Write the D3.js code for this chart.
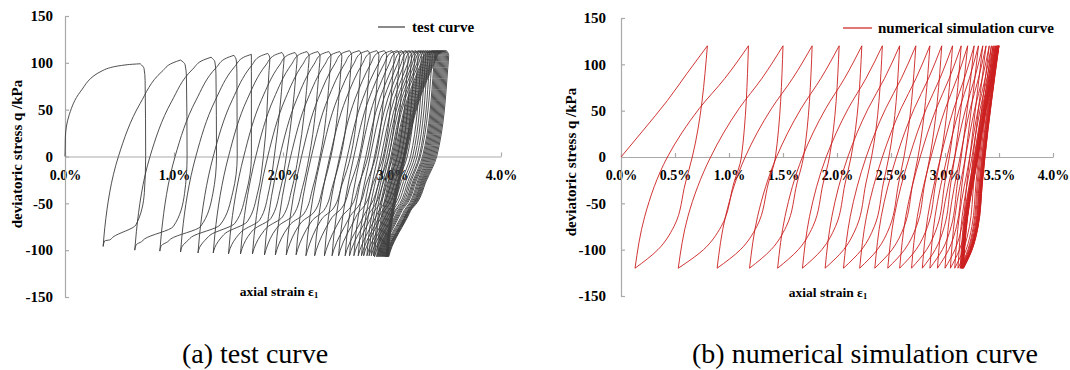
<!DOCTYPE html>
<html>
<head>
<meta charset="utf-8">
<script src="https://cdn.jsdelivr.net/npm/d3@7"></script>
<style>
html,body{margin:0;padding:0;background:#fff;}
svg{display:block;}
svg text{font-family:"Liberation Serif","Times New Roman",Times,"DejaVu Serif",serif;}
</style>
</head>
<body>
<svg id="chart" width="1070" height="370"></svg>
<script>
// ---------------- data ----------------
const yTickValues = [-150, -100, -50, 0, 50, 100, 150];
const yTickLabels = ["-150", "-100", "-50", "0", "50", "100", "150"];
const testTickValues = [0, 1, 2, 3, 4];
const testTickLabels = ["0.0%", "1.0%", "2.0%", "3.0%", "4.0%"];
const simTickValues = [0, 0.5, 1, 1.5, 2, 2.5, 3, 3.5, 4];
const simTickLabels = ["0.0%", "0.5%", "1.0%", "1.5%", "2.0%", "2.5%", "3.0%", "3.5%", "4.0%"];

// (a) test curve: first loading branch
const testFirstStrain = [0, 0.003, 0.04, 0.14, 0.35, 0.57];
const testFirstStress = [0, 20, 45, 69, 92, 98];
// per cycle (peak -> unloading -> trough)
const testPeakStrain = [0.69, 1.06, 1.34, 1.55, 1.71, 1.86, 1.99, 2.11, 2.22, 2.32, 2.42, 2.52, 2.61, 2.70, 2.78, 2.86, 2.93, 3.00, 3.05, 3.09, 3.13, 3.16, 3.19, 3.22, 3.25, 3.27, 3.29, 3.31, 3.33, 3.35, 3.37, 3.38, 3.39, 3.40, 3.41, 3.42, 3.43, 3.44, 3.45, 3.46, 3.47, 3.48, 3.49, 3.50];
const testPeakStress = [99, 103, 106, 108, 109, 110, 111, 111, 112, 112, 112, 112, 113, 113, 113, 113, 113, 113, 113, 113, 113, 113, 113, 113, 113, 113, 113, 113, 113, 113, 113, 113, 113, 113, 113, 113, 113, 113, 113, 113, 113, 113, 113, 113];
const testUnloadZero = [0.74, 1.12, 1.39, 1.58, 1.71, 1.82, 1.92, 2.03, 2.14, 2.24, 2.34, 2.44, 2.53, 2.62, 2.70, 2.78, 2.85, 2.92, 2.97, 3.01, 3.05, 3.08, 3.11, 3.14, 3.17, 3.19, 3.21, 3.23, 3.25, 3.26, 3.28, 3.29, 3.30, 3.31, 3.32, 3.33, 3.34, 3.35, 3.36, 3.37, 3.38, 3.39, 3.40, 3.41];
const testKinkStrain = [0.44, 0.73, 0.97, 1.16, 1.33, 1.47, 1.62, 1.73, 1.85, 1.96, 2.07, 2.17, 2.27, 2.36, 2.45, 2.54, 2.62, 2.68, 2.75, 2.79, 2.83, 2.87, 2.90, 2.92, 2.96, 2.98, 3.00, 3.02, 3.03, 3.05, 3.06, 3.07, 3.08, 3.09, 3.11, 3.12, 3.13, 3.14, 3.145, 3.15, 3.155, 3.16, 3.165, 3.17];
const testKinkStress = [-86, -88, -88, -86, -84, -82, -80, -78, -76, -74, -72, -70, -68, -66, -65, -64, -63, -62, -61, -61, -60, -60, -60, -60, -59, -59, -59, -59, -59, -58, -58, -58, -58, -58, -58, -58, -58, -58, -58, -58, -58, -58, -58, -58];
const testTroughStrain = [0.35, 0.64, 0.87, 1.06, 1.22, 1.36, 1.50, 1.61, 1.72, 1.83, 1.93, 2.03, 2.12, 2.21, 2.29, 2.38, 2.45, 2.51, 2.57, 2.61, 2.65, 2.69, 2.72, 2.74, 2.77, 2.79, 2.81, 2.83, 2.84, 2.86, 2.87, 2.88, 2.89, 2.90, 2.91, 2.92, 2.93, 2.94, 2.945, 2.95, 2.955, 2.96, 2.965, 2.97];
const testTroughStress = [-96, -100, -101, -102, -103, -103, -104, -104, -104, -105, -105, -105, -105, -106, -106, -106, -106, -106, -106, -106, -106, -106, -106, -106, -106, -106, -106, -106, -107, -107, -107, -107, -107, -107, -107, -107, -107, -107, -107, -107, -107, -107, -107, -107];
// reloading branch i: trough i -> peak i+1, strain where q crosses 0
const testReloadZero = [0.49, 0.78, 1.01, 1.20, 1.36, 1.50, 1.64, 1.75, 1.86, 1.97, 2.07, 2.17, 2.26, 2.35, 2.43, 2.52, 2.59, 2.65, 2.71, 2.76, 2.80, 2.84, 2.87, 2.90, 2.93, 2.95, 2.97, 2.99, 3.00, 3.02, 3.03, 3.04, 3.05, 3.06, 3.07, 3.08, 3.09, 3.10, 3.105, 3.11, 3.115, 3.12, 3.125];

// (b) numerical simulation curve
const simFirstStrain = [0, 0.20, 0.43, 0.61];
const simFirstStress = [0, 28, 61, 90];
const simPeakStrain = [0.80, 1.18, 1.50, 1.77, 2.02, 2.23, 2.42, 2.58, 2.73, 2.86, 2.97, 3.07, 3.15, 3.21, 3.27, 3.31, 3.35, 3.38, 3.41, 3.43, 3.445, 3.455, 3.465, 3.472, 3.478, 3.483, 3.487, 3.49, 3.493, 3.495, 3.497, 3.499, 3.50];
const simPeakStress = [120, 120, 120, 120, 120, 120, 120, 120, 120, 120, 120, 120, 120, 120, 120, 120, 120, 120, 120, 120, 120, 120, 120, 120, 120, 120, 120, 120, 120, 120, 120, 120, 120];
const simUnloadZero = [0.66, 1.115, 1.43, 1.69, 1.93, 2.13, 2.32, 2.48, 2.62, 2.75, 2.86, 2.96, 3.04, 3.09, 3.15, 3.19, 3.23, 3.26, 3.29, 3.31, 3.32, 3.33, 3.34, 3.345, 3.35, 3.355, 3.358, 3.36, 3.363, 3.365, 3.367, 3.369, 3.37];
const simTroughStrain = [0.13, 0.53, 0.89, 1.19, 1.45, 1.68, 1.89, 2.06, 2.21, 2.35, 2.47, 2.58, 2.69, 2.79, 2.86, 2.93, 3.00, 3.05, 3.09, 3.12, 3.14, 3.145, 3.15, 3.153, 3.156, 3.158, 3.16, 3.162, 3.164, 3.166, 3.168, 3.17, 3.172];
const simTroughStress = [-120, -120, -120, -120, -120, -120, -120, -120, -120, -120, -120, -120, -120, -120, -120, -120, -120, -120, -120, -120, -120, -120, -120, -120, -120, -120, -120, -120, -120, -120, -120, -120, -120];
const simReloadZero = [0.43, 0.83, 1.15, 1.44, 1.68, 1.90, 2.10, 2.27, 2.42, 2.55, 2.67, 2.77, 2.87, 2.96, 3.02, 3.09, 3.14, 3.19, 3.23, 3.25, 3.27, 3.275, 3.28, 3.285, 3.29, 3.292, 3.295, 3.297, 3.30, 3.302, 3.304, 3.306];

// ---------------- drawing ----------------
const axisColor = "#a9a9a9";
const testColor = "#3c3c3c";
const simColor = "#cc1f1f";
const svg = d3.select("#chart");

const testX = d3.scaleLinear().domain([0, 4]).range([65, 501]);
const testY = d3.scaleLinear().domain([-150, 150]).range([297, 16]);
const simX = d3.scaleLinear().domain([0, 4]).range([621, 1053]);
const simY = d3.scaleLinear().domain([-150, 150]).range([296, 18]);

function drawAxes(x, y, xTicks, xLabels, xPad, yPad) {
  const g = svg.append("g");
  const ax = g.append("g").attr("transform", `translate(0,${y(0)})`)
    .call(d3.axisBottom(x).tickValues(xTicks).tickFormat((d, i) => xLabels[i])
      .tickSizeInner(-4).tickSizeOuter(0).tickPadding(xPad));
  const ay = g.append("g").attr("transform", `translate(${x(0)},0)`)
    .call(d3.axisLeft(y).tickValues(yTickValues).tickFormat((d, i) => yTickLabels[i])
      .tickSizeInner(-4).tickSizeOuter(0).tickPadding(yPad));
  ax.attr("font-size", 14); ay.attr("font-size", 15);
  [ax, ay].forEach(a => {
    a.attr("font-weight", "bold");
    a.select(".domain").attr("stroke", axisColor).attr("stroke-width", 1.2);
    a.selectAll(".tick line").attr("stroke", axisColor).attr("stroke-width", 1.2);
    a.selectAll(".tick text").attr("fill", "#000");
  });
}

function segLine(x, y) {
  return d3.line().x(d => x(d[0])).y(d => y(d[1])).curve(d3.curveMonotoneY);
}

function testSegments() {
  const segs = [];
  const first = testFirstStrain.map((s, i) => [s, testFirstStress[i]]);
  first.push([testPeakStrain[0], testPeakStress[0]]);
  segs.push(first);
  const n = testPeakStrain.length;
  for (let i = 0; i < n; i++) {
    const ep = testPeakStrain[i], qp = testPeakStress[i];
    const uz = testUnloadZero[i], ek = testKinkStrain[i], kq = testKinkStress[i];
    const et = testTroughStrain[i], qt = testTroughStress[i];
    const du = uz - ep;
    // rounded cap at the top of each loop
    const a = du >= 0 ? 0.7 * du : 0.02;
    const b = du >= 0 ? 0.9 * du : 0.012;
    // shape of the unloading bend: near-vertical for the first loops, smoother later
    const t = Math.min(1, i / 18);
    const f1 = 0.04 + 0.36 * t, f2 = 0.30 + 0.45 * t;
    const kdx = 0.03 * (1 - 0.6 * t);
    segs.push([
      [ep, qp], [ep + a, qp - 5], [ep + b, qp - 18], [uz, 0],
      [uz - f1 * (uz - ek), kq * 0.45], [uz - f2 * (uz - ek), kq * 0.85],
      [ek, kq], [ek - kdx, kq - 3], [et + 0.015, qt + 6], [et, qt]
    ]);
    if (i < n - 1) {
      const rz = testReloadZero[i];
      const ep2 = testPeakStrain[i + 1], qp2 = testPeakStress[i + 1];
      segs.push([
        [et, qt], [et + 0.015, qt + 20], [rz, 0],
        [rz + 0.35 * (ep2 - rz), 0.55 * qp2], [rz + 0.70 * (ep2 - rz), 0.88 * qp2],
        [ep2 - 0.07, qp2 - 3], [ep2, qp2]
      ]);
    }
  }
  return segs;
}

function simSegments() {
  const segs = [];
  const first = simFirstStrain.map((s, i) => [s, simFirstStress[i]]);
  first.push([simPeakStrain[0], simPeakStress[0]]);
  segs.push(first);
  const n = simPeakStrain.length;
  for (let i = 0; i < n; i++) {
    const ep = simPeakStrain[i], qp = simPeakStress[i];
    const uz = simUnloadZero[i];
    const et = simTroughStrain[i], qt = simTroughStress[i];
    const d = uz - et;
    segs.push([
      [ep, qp], [uz, 0], [uz - 0.12 * d, -28], [uz - 0.32 * d, -75],
      [et + 0.4 * d, qt + 20], [et, qt]
    ]);
    if (i < n - 1) {
      const rz = simReloadZero[i];
      const ep2 = simPeakStrain[i + 1], qp2 = simPeakStress[i + 1];
      segs.push([
        [et, qt], [et + 0.3 * (rz - et), -64], [rz, 0],
        [rz + 0.39 * (ep2 - rz), 52], [rz + 0.71 * (ep2 - rz), 85], [ep2, qp2]
      ]);
    }
  }
  return segs;
}

// axes first (curves are drawn on top of the tick labels, as in the figure)
drawAxes(testX, testY, testTickValues, testTickLabels, 14, 12);
drawAxes(simX, simY, simTickValues, simTickLabels, 13, 15);

const lt = segLine(testX, testY);
svg.append("g").selectAll("path").data(testSegments()).join("path")
  .attr("d", lt).attr("fill", "none").attr("stroke", testColor).attr("stroke-width", 0.9);

const ls = segLine(simX, simY);
svg.append("g").selectAll("path").data(simSegments()).join("path")
  .attr("d", ls).attr("fill", "none").attr("stroke", simColor).attr("stroke-width", 0.9);

// axis titles
function yTitle(x, y) {
  svg.append("text").attr("transform", `translate(${x},${y}) rotate(-90)`)
    .attr("text-anchor", "middle").attr("font-weight", "bold")
    .attr("font-size", 15).attr("fill", "#000").text("deviatoric stress q /kPa");
}
yTitle(22, 154);
yTitle(576, 162);

function xTitle(x, y) {
  const t = svg.append("text").attr("x", x).attr("y", y).attr("text-anchor", "middle")
    .attr("font-weight", "bold").attr("font-size", 13.5).attr("fill", "#000");
  t.append("tspan").text("axial strain ε");
  t.append("tspan").attr("font-size", 8.5).attr("dy", 2).text("1");
}
xTitle(279, 296);
xTitle(828, 297);

// legends
function legend(x1, x2, y, tx, ty, color, label) {
  svg.append("line").attr("x1", x1).attr("x2", x2).attr("y1", y).attr("y2", y)
    .attr("stroke", color).attr("stroke-width", 1.2);
  svg.append("text").attr("x", tx).attr("y", ty)
    .attr("font-weight", "bold").attr("font-size", 15).attr("fill", "#000").text(label);
}
legend(378, 405, 27, 412, 32, testColor, "test curve");
legend(843, 872, 28, 878, 33, simColor, "numerical simulation curve");

// captions
svg.append("text").attr("x", 255).attr("y", 363).attr("text-anchor", "middle")
  .attr("font-size", 28).attr("fill", "#000").text("(a) test curve");
svg.append("text").attr("x", 865).attr("y", 363).attr("text-anchor", "middle")
  .attr("font-size", 28).attr("fill", "#000").text("(b) numerical simulation curve");
</script>
</body>
</html>
